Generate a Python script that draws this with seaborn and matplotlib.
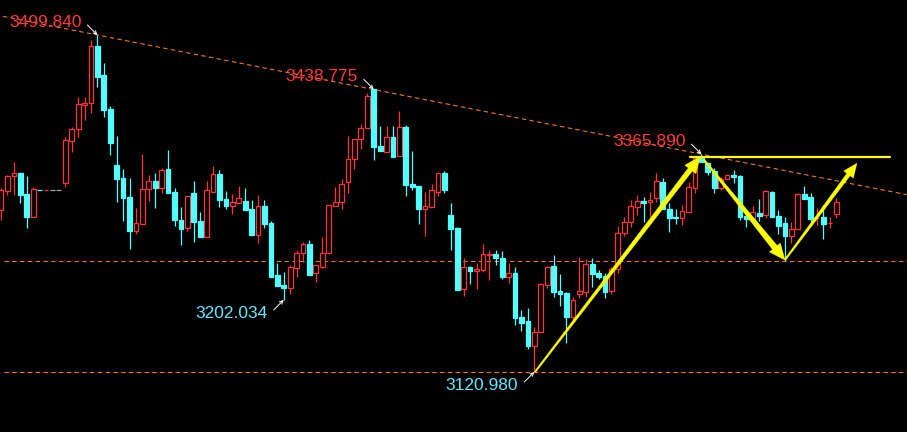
import numpy as np
import matplotlib
matplotlib.use('Agg')
import matplotlib.pyplot as plt
from matplotlib.patches import Polygon
import seaborn as sns

# K线数据 (开 高 低 收)
opens = [3303.1, 3324.8, 3341.7, 3344.4, 3321.1, 3295.6, 3325.8, 3325.4, 3326.0, 3326.0,
         3333.1, 3381.0, 3393.8, 3421.5, 3423.1, 3487.5, 3454.9, 3416.7, 3353.7, 3339.1,
         3317.7, 3279.8, 3287.0, 3326.4, 3335.7, 3328.2, 3348.9, 3323.4, 3291.9, 3282.5,
         3321.9, 3290.7, 3273.1, 3323.7, 3343.6, 3315.1, 3308.0, 3311.3, 3313.2, 3304.2,
         3275.0, 3307.6, 3288.5, 3230.0, 3219.1, 3215.8, 3238.3, 3254.4, 3264.9, 3231.9,
         3239.4, 3254.4, 3308.0, 3311.8, 3334.9, 3360.1, 3382.6, 3395.0, 3438.7, 3375.1,
         3368.7, 3384.8, 3364.2, 3396.1, 3332.3, 3330.1, 3304.6, 3306.8, 3323.7, 3344.4,
         3297.5, 3282.9, 3214.6, 3239.0, 3234.2, 3235.7, 3253.0, 3253.6, 3249.2, 3228.1,
         3231.9, 3182.5, 3178.3, 3150.6, 3165.6, 3219.1, 3240.2, 3212.0, 3209.8, 3183.2,
         3209.0, 3211.3, 3242.1, 3232.6, 3228.9, 3212.0, 3236.4, 3276.9, 3289.3, 3306.8,
         3313.2, 3311.8, 3316.3, 3334.9, 3303.9, 3295.6, 3293.8, 3301.2, 3328.2, 3361.9,
         3355.6, 3347.0, 3328.2, 3337.6, 3342.5, 3341.3, 3296.4, 3292.7, 3299.4, 3297.1,
         3323.4, 3296.4, 3288.2, 3274.2, 3281.4, 3321.1, 3318.1, 3293.8, 3295.6, 3288.5,
         3298.3]
highs = [3327.9, 3342.5, 3356.7, 3344.7, 3341.3, 3328.6, 3325.8, 3325.8, 3326.0, 3326.0,
         3384.8, 3396.1, 3430.5, 3430.5, 3494.2, 3499.84, 3468.0, 3420.4, 3386.3, 3349.2,
         3339.1, 3305.4, 3366.1, 3342.5, 3344.7, 3350.3, 3370.6, 3327.5, 3306.5, 3318.9,
         3335.7, 3300.9, 3335.7, 3352.2, 3348.1, 3324.5, 3321.1, 3330.1, 3327.5, 3314.4,
         3320.0, 3314.4, 3290.7, 3243.2, 3233.1, 3241.0, 3258.2, 3267.1, 3269.4, 3241.0,
         3273.1, 3308.4, 3328.6, 3338.0, 3386.3, 3382.6, 3399.8, 3434.3, 3438.775, 3397.6,
         3397.6, 3397.6, 3414.4, 3398.7, 3369.4, 3330.1, 3323.7, 3332.3, 3345.0, 3347.0,
         3311.3, 3283.7, 3249.5, 3240.2, 3243.9, 3264.9, 3258.2, 3258.2, 3256.7, 3243.2,
         3239.4, 3190.7, 3192.6, 3171.9, 3219.9, 3240.2, 3252.5, 3231.2, 3210.9, 3205.6,
         3249.9, 3247.7, 3248.8, 3235.7, 3231.9, 3239.4, 3285.1, 3294.9, 3314.4, 3320.0,
         3318.1, 3323.7, 3344.4, 3339.4, 3310.6, 3303.9, 3308.7, 3334.3, 3361.9, 3365.89,
         3355.9, 3350.7, 3340.6, 3342.5, 3348.1, 3342.5, 3303.1, 3307.6, 3315.5, 3325.6,
         3324.8, 3303.1, 3295.6, 3289.9, 3322.6, 3330.1, 3322.6, 3305.0, 3308.7, 3295.6,
         3316.3]
lows = [3291.9, 3320.0, 3320.0, 3311.3, 3283.2, 3295.6, 3325.4, 3325.4, 3326.0, 3326.0,
        3328.6, 3368.7, 3385.5, 3404.3, 3411.8, 3441.7, 3408.0, 3364.9, 3312.5, 3290.7,
        3259.3, 3276.1, 3287.0, 3313.6, 3305.7, 3321.9, 3322.6, 3285.5, 3264.1, 3279.8,
        3267.5, 3273.1, 3273.1, 3323.7, 3306.8, 3304.2, 3298.6, 3311.3, 3303.1, 3275.0,
        3266.4, 3282.5, 3228.1, 3217.7, 3202.034, 3208.3, 3227.4, 3245.0, 3230.4, 3222.5,
        3237.6, 3254.4, 3308.0, 3304.6, 3322.6, 3349.5, 3372.0, 3395.0, 3359.3, 3369.8,
        3368.7, 3363.0, 3364.2, 3318.9, 3325.6, 3287.4, 3273.9, 3306.8, 3319.2, 3322.6,
        3258.2, 3213.2, 3206.4, 3219.9, 3214.3, 3233.8, 3224.4, 3241.6, 3225.6, 3220.7,
        3173.8, 3167.1, 3146.9, 3120.98, 3165.6, 3215.8, 3205.6, 3195.5, 3153.9, 3179.5,
        3204.5, 3205.6, 3216.9, 3225.2, 3203.9, 3208.3, 3231.9, 3274.2, 3284.3, 3297.5,
        3289.9, 3295.6, 3312.5, 3303.9, 3278.7, 3287.4, 3286.3, 3301.2, 3321.9, 3356.7,
        3342.5, 3322.6, 3325.6, 3337.6, 3333.1, 3291.9, 3284.3, 3292.7, 3291.1, 3293.8,
        3295.6, 3276.1, 3246.1, 3265.7, 3281.4, 3315.5, 3289.9, 3286.3, 3270.5, 3283.2,
        3294.5]
closes = [3325.6, 3341.7, 3344.4, 3320.0, 3295.6, 3326.4, 3325.4, 3325.8, 3326.0, 3326.0,
          3381.8, 3394.2, 3422.3, 3423.7, 3487.5, 3453.0, 3415.5, 3378.8, 3338.0, 3316.9,
          3279.8, 3288.2, 3326.4, 3335.4, 3328.2, 3347.7, 3322.6, 3292.2, 3282.1, 3318.5,
          3290.0, 3273.1, 3325.3, 3343.2, 3314.4, 3308.0, 3312.1, 3316.3, 3303.1, 3275.0,
          3307.3, 3287.4, 3228.1, 3217.7, 3215.8, 3239.0, 3254.4, 3264.6, 3230.4, 3241.0,
          3254.4, 3308.4, 3311.8, 3332.0, 3360.1, 3382.6, 3395.0, 3431.3, 3374.3, 3369.8,
          3384.8, 3363.0, 3396.1, 3331.2, 3329.3, 3304.6, 3307.6, 3325.6, 3344.4, 3325.6,
          3281.8, 3213.2, 3238.7, 3234.5, 3236.8, 3253.6, 3253.6, 3249.2, 3227.8, 3231.9,
          3182.0, 3176.4, 3150.6, 3165.6, 3219.9, 3239.0, 3210.9, 3208.7, 3183.2, 3201.9,
          3211.7, 3242.1, 3230.8, 3228.1, 3211.3, 3236.8, 3277.3, 3289.3, 3307.6, 3313.2,
          3311.3, 3314.4, 3335.7, 3303.9, 3293.8, 3293.8, 3302.0, 3328.6, 3361.2, 3356.7,
          3346.2, 3328.2, 3338.0, 3342.5, 3340.2, 3295.6, 3292.7, 3300.5, 3296.7, 3324.1,
          3295.6, 3285.1, 3273.9, 3281.4, 3321.1, 3315.5, 3293.0, 3294.5, 3287.7, 3289.0,
          3311.8]

# 标注的高低点 (K线序号)
peak_idx = [15, 58, 109]
trough_idx = [44, 83]
# 水平支撑虚线
support_levels = [3245.8, 3120.98]
# 黄色箭头 (起点 -> 终点)
arrow_x0 = [83.1, 109.3, 122.0]
arrow_y0 = [3120.98, 3360.4, 3246.9]
arrow_x1 = [108.8, 122.0, 133.2]
arrow_y1 = [3363.0, 3246.9, 3355.6]
neck_level = 3363.0
neck_x = [107.2, 138.4]

UP = '#FF3535'
DOWN = '#54FFFF'
FLAT = '#A0A0A0'
ORANGE = '#F07820'
YELLOW = '#FFFF00'

sns.set_theme(style='dark', rc={'axes.facecolor': 'black', 'figure.facecolor': 'black'})
plt.rcParams['font.family'] = ['Liberation Sans', 'DejaVu Sans']

fig = plt.figure(figsize=(9.07, 4.32), dpi=100)
ax = fig.add_axes([0, 0, 1, 1])
ax.set_xlim(-0.16, 141.0)
ax.set_ylim(3053.5, 3539.2)
ax.axis('off')

o = np.array(opens)
h = np.array(highs)
l = np.array(lows)
c = np.array(closes)
x = np.arange(len(o))
colors = np.where(c > o, UP, np.where(c < o, DOWN, FLAT))
faces = np.where(c > o, 'black', colors)

# 影线
ax.vlines(x, l, h, colors=colors, linewidth=0.9, zorder=2)
# 实体 (阳线空心)
ax.bar(x, np.abs(c - o), bottom=np.minimum(o, c), width=0.74,
       color=faces, edgecolor=colors, linewidth=0.9, zorder=3)

# 下降趋势线
slope = (h[peak_idx[-1]] - h[peak_idx[0]]) / (peak_idx[-1] - peak_idx[0])
tx = np.array([0.3, 141.0])
ty = h[peak_idx[0]] + slope * (tx - peak_idx[0])
sns.lineplot(x=tx, y=ty, ax=ax, color=ORANGE, linewidth=0.8,
             linestyle=(0, (4, 3)), zorder=1)
for lv in support_levels:
    ax.axhline(lv, xmin=0.004, color=ORANGE, linewidth=0.8, linestyle=(0, (4, 3)), zorder=1)

# 高低点标注
for i in peak_idx:
    ax.annotate(f'{h[i]:.3f}', xy=(i, h[i]), xytext=(-16, 12.5), textcoords='offset pixels',
                ha='right', va='center', color='#FF3A3A', fontsize=12.5, zorder=6)
    ax.annotate('', xy=(i, h[i]), xytext=(-10, 10), textcoords='offset pixels',
                arrowprops=dict(arrowstyle='->', color='white', lw=0.7,
                                shrinkA=0, shrinkB=0, mutation_scale=6))
for i in trough_idx:
    ax.annotate(f'{l[i]:.3f}', xy=(i, l[i]), xytext=(-16, -14), textcoords='offset pixels',
                ha='right', va='center', color='#66E6FF', fontsize=12.5, zorder=6)
    ax.annotate('', xy=(i, l[i]), xytext=(-10, -10), textcoords='offset pixels',
                arrowprops=dict(arrowstyle='->', color='white', lw=0.7,
                                shrinkA=0, shrinkB=0, mutation_scale=6))


def taper_arrow(x0, y0, x1, y1, w0, w1, hw, hl):
    p0 = ax.transData.transform((x0, y0))
    p1 = ax.transData.transform((x1, y1))
    d = p1 - p0
    u = d / np.hypot(*d)
    n = np.array([-u[1], u[0]])
    b = p1 - u * hl
    pts = [p0 + n * w0 / 2, b + n * w1 / 2, b + n * hw / 2, p1,
           b - n * hw / 2, b - n * w1 / 2, p0 - n * w0 / 2]
    pts = ax.transData.inverted().transform(np.array(pts))
    ax.add_patch(Polygon(pts, closed=True, fc=YELLOW, ec=YELLOW, lw=0.3, zorder=5))


# 颈线与箭头
ax.plot(neck_x, [neck_level, neck_level], color=YELLOW, linewidth=1.6, zorder=5)
sizes = [(1.5, 5, 14, 16), (1.5, 6, 14, 16), (1.5, 4, 12, 14)]
for k in range(3):
    taper_arrow(arrow_x0[k], arrow_y0[k], arrow_x1[k], arrow_y1[k], *sizes[k])

fig.savefig('out.png', dpi=100, facecolor='black')
